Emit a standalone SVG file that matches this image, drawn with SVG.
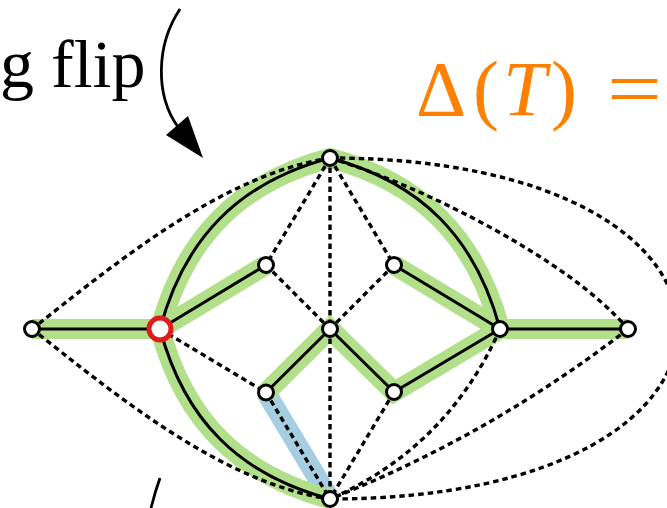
<svg xmlns="http://www.w3.org/2000/svg" width="667" height="508" viewBox="0 0 667 508">
<style>
.hl{fill:none;stroke:#b2df8a;stroke-width:20;stroke-linejoin:miter;stroke-linecap:butt}
.bl{fill:none;stroke:#a6cee3;stroke-width:20}
.dot{fill:none;stroke:#000;stroke-width:3.4;stroke-dasharray:5.5 4}
.sol{fill:none;stroke:#000;stroke-width:3;stroke-linejoin:round}
.nd{fill:#fff;stroke:#000;stroke-width:3}
.lbl{font-family:"Liberation Serif","Times New Roman",serif}
</style>
<rect width="667" height="508" fill="#fff"/>
<g id="labels">
<text class="lbl" x="0" y="87" font-size="68" fill="#000">g flip</text>
<text class="lbl" y="115" font-size="78" fill="#ff7f00"><tspan x="416">Δ</tspan><tspan x="473">(</tspan><tspan x="503" font-style="italic">T</tspan><tspan x="551">)</tspan></text>
<text class="lbl" font-size="78" fill="#ff7f00" transform="translate(607,115) scale(1.25,1)">=</text>
</g>
<g id="arrows">
<path d="M180,9 C156,45 155,95 178,127" fill="none" stroke="#000" stroke-width="2.8"/>
<polygon points="203,158 166,135 188,116" fill="#000"/>
<path d="M160,478 Q155,492 151,508" fill="none" stroke="#000" stroke-width="2.8"/>
</g>
<g id="highlights">
<path class="bl" d="M266,392.5 L330,499"/>
<path class="hl" d="M32,329 L160,329"/>
<path class="hl" d="M160,329 C184.4,237.8 238.8,182.4 330,158 C421.2,182.4 475.6,237.8 500,329"/>
<path class="hl" d="M160,329 C184.4,420.2 238.8,474.6 330,499"/>
<path class="hl" d="M160,329 L266,265"/>
<path class="hl" d="M394,265 L500,329"/>
<path class="hl" d="M266,392.5 L330,329 L394,392 L500,329 L628,329"/>
</g>
<g id="connectors">
<path class="dot" d="M32,329 C110,268 220,175 330,158"/>
<path class="dot" d="M32,329 C110,390 220,483 330,499"/>
<path class="dot" d="M330,158 L266,265"/>
<path class="dot" d="M330,158 L330,329"/>
<path class="dot" d="M330,158 L394,265"/>
<path class="dot" d="M266,265 L330,329"/>
<path class="dot" d="M394,265 L330,329"/>
<path class="dot" d="M160,329 L266,392.5"/>
<path class="dot" d="M330,329 L330,499"/>
<path class="dot" d="M266,392.5 L330,499"/>
<path class="dot" d="M394,392 L330,499"/>
<path class="dot" d="M500,329 Q448,447 330,499"/>
<path class="dot" d="M628,329 Q491,435 330,499"/>
<path class="dot" d="M330,158 C420,185 570,260 628,329"/>
<path class="dot" d="M330,158 C794,158 794,499 330,499"/>
<path class="sol" d="M32,329 L160,329"/>
<path class="sol" d="M160,329 C184.4,237.8 238.8,182.4 330,158 C421.2,182.4 475.6,237.8 500,329"/>
<path class="sol" d="M160,329 C184.4,420.2 238.8,474.6 330,499"/>
<path class="sol" d="M160,329 L266,265"/>
<path class="sol" d="M394,265 L500,329"/>
<path class="sol" d="M266,392.5 L330,329 L394,392 L500,329 L628,329"/>
</g>
<g id="n-L"><circle class="nd" cx="32" cy="329" r="7.5"/></g>
<g id="n-R"><circle cx="160" cy="329" r="11" fill="#fff" stroke="#e31a1c" stroke-width="5"/></g>
<g id="n-Top"><circle class="nd" cx="330" cy="158" r="7.5"/></g>
<g id="n-A"><circle class="nd" cx="266" cy="265" r="7.5"/></g>
<g id="n-B"><circle class="nd" cx="394" cy="265" r="7.5"/></g>
<g id="n-C"><circle class="nd" cx="330" cy="329" r="7.5"/></g>
<g id="n-D"><circle class="nd" cx="266" cy="392.5" r="7.5"/></g>
<g id="n-E"><circle class="nd" cx="394" cy="392" r="7.5"/></g>
<g id="n-F"><circle class="nd" cx="500" cy="329" r="7.5"/></g>
<g id="n-G"><circle class="nd" cx="628" cy="329" r="7.5"/></g>
<g id="n-Bottom"><circle class="nd" cx="330" cy="499" r="7.5"/></g>
</svg>
